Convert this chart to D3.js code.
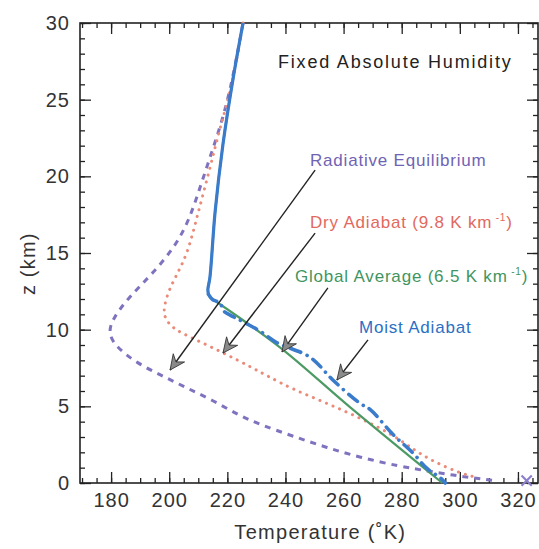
<!DOCTYPE html>
<html>
<head>
<meta charset="utf-8">
<script src="https://cdn.jsdelivr.net/npm/d3@7"></script>
<style>
  body { margin: 0; background: #fff; }
  svg { display: block; font-family: "Liberation Sans", Arial, sans-serif; }
  .tick text { fill: #333; font-size: 20px; letter-spacing: 1px; }
  .tick line { stroke: #222; stroke-width: 1.3; }
</style>
</head>
<body>
<script>
// temperature (K) and height (km) pairs
var radiativeT = [225.4, 221.5, 218, 214.5, 211, 207, 202, 194, 186, 180.5, 179, 181.5, 189, 197.5, 206, 215, 224, 231.5, 242.6, 254.3, 266, 279, 289, 298, 305, 312];
var radiativeZ = [30, 26, 23.5, 21.5, 19.5, 17.2, 15.4, 13.6, 12.1, 10.7, 9.8, 8.9, 7.8, 7.0, 6.2, 5.4, 4.4, 3.8, 3.05, 2.3, 1.65, 1.1, 0.78, 0.5, 0.32, 0.15];

var dryT = [225.4, 221.8, 217.5, 214, 209.5, 206.5, 203.2, 199.6, 198, 198.5, 201.3, 208, 218.5, 227.8, 234.1, 242.7, 254.3, 265.6, 277, 285, 292, 300, 306];
var dryZ = [30, 26, 23.2, 20.5, 17.3, 15.1, 13.8, 12.5, 11.3, 10.75, 10.05, 9.45, 8.5, 7.6, 6.95, 6.1, 5.2, 4.25, 3.15, 2.05, 1.3, 0.65, 0.35];

var globalT = [225.4, 222, 218.5, 215.8, 214, 213.3, 214, 216, 238.1, 262.2, 294];
var globalZ = [30, 26.4, 22.1, 17.7, 13.4, 12.6, 12.1, 11.85, 8.85, 4.95, 0];

var moistUpperT = [225.4, 222, 218.5, 215.8, 214, 213.3, 213.5];
var moistUpperZ = [30, 26.4, 22.1, 17.7, 13.4, 12.6, 12.3];
var moistLowerT = [213.5, 215, 217.5, 218.6, 222, 225.5, 231.3, 237.1, 248.5, 256.4, 265.6, 269.1, 277.1, 283.9, 288.7, 293.2, 295];
var moistLowerZ = [12.3, 11.95, 11.75, 11.25, 10.85, 10.5, 9.9, 9.15, 8.2, 6.7, 5.2, 4.8, 3.15, 1.95, 0.95, 0.35, 0];

var xTicks = [180, 200, 220, 240, 260, 280, 300, 320];
var yTicks = [0, 5, 10, 15, 20, 25, 30];

var width = 539, height = 549;
var margin = {top: 23, right: 1, bottom: 66, left: 80};
var w = width - margin.left - margin.right,
    h = height - margin.top - margin.bottom;

var xScale = d3.scaleLinear().domain([169.3, 326.9]).range([0, w]);
var yScale = d3.scaleLinear().domain([0, 30]).range([h, 0]);

var svg = d3.select("body").append("svg")
    .attr("width", width)
    .attr("height", height)
  .append("g")
    .attr("transform", "translate(" + margin.left + "," + margin.top + ")");

var minorX = d3.range(170, 326, 5);
var minorY = d3.range(0, 31, 1);

// ticks point inward on all four sides
function axisPair(axisFn, scale, minorVals, majorVals, labels, translate) {
  var gMinor = svg.append("g").attr("transform", translate)
      .call(axisFn(scale).tickValues(minorVals).tickSize(-5).tickFormat(""));
  gMinor.select(".domain").remove();
  var gMajor = svg.append("g").attr("transform", translate)
      .call(axisFn(scale)
        .tickValues(majorVals).tickSize(-11).tickPadding(labels ? 10 : 0)
        .tickFormat(labels ? d3.format("d") : ""));
  gMajor.select(".domain").remove();
  return gMajor;
}

axisPair(d3.axisBottom, xScale, minorX, xTicks, true, "translate(0," + h + ")");
axisPair(d3.axisTop, xScale, minorX, xTicks, false, "translate(0,0)");
axisPair(d3.axisLeft, yScale, minorY, yTicks, true, "translate(0,0)");
axisPair(d3.axisRight, yScale, minorY, yTicks, false, "translate(" + w + ",0)");

// frame
svg.append("rect")
    .attr("width", w).attr("height", h)
    .attr("fill", "none").attr("stroke", "#222").attr("stroke-width", 1.6);

svg.append("text")
    .attr("x", xScale(252))
    .attr("y", h + 56)
    .attr("text-anchor", "middle")
    .attr("fill", "#333")
    .style("font-size", "20px")
    .style("letter-spacing", "1.3px")
    .text("Temperature (˚K)");

svg.append("text")
    .attr("transform", "translate(" + (-45) + "," + yScale(14.3) + ") rotate(-90)")
    .attr("text-anchor", "middle")
    .attr("fill", "#333")
    .style("font-size", "20px")
    .style("letter-spacing", "1.2px")
    .text("z (km)");

var lineBasis = d3.line()
    .x(function(d) { return xScale(d[0]); })
    .y(function(d) { return yScale(d[1]); })
    .curve(d3.curveBasis);

var lineCat = d3.line()
    .x(function(d) { return xScale(d[0]); })
    .y(function(d) { return yScale(d[1]); })
    .curve(d3.curveCatmullRom);

function pairs(ts, zs) { return ts.map(function(t, i) { return [t, zs[i]]; }); }

svg.append("path")
    .datum(pairs(radiativeT, radiativeZ))
    .attr("d", lineBasis)
    .attr("fill", "none")
    .attr("stroke", "#7f73c0")
    .attr("stroke-width", 3)
    .attr("stroke-dasharray", "6,6");

svg.append("path")
    .datum(pairs(dryT, dryZ))
    .attr("d", lineBasis)
    .attr("fill", "none")
    .attr("stroke", "#ea8a78")
    .attr("stroke-width", 3)
    .attr("stroke-linecap", "round")
    .attr("stroke-dasharray", "0.1,7");

svg.append("path")
    .datum(pairs(globalT, globalZ))
    .attr("d", lineCat)
    .attr("fill", "none")
    .attr("stroke", "#4c9a64")
    .attr("stroke-width", 2.2);

svg.append("path")
    .datum(pairs(moistUpperT, moistUpperZ))
    .attr("d", lineCat)
    .attr("fill", "none")
    .attr("stroke", "#3a7bcb")
    .attr("stroke-width", 3.2);

svg.append("path")
    .datum(pairs(moistLowerT, moistLowerZ))
    .attr("d", lineCat)
    .attr("fill", "none")
    .attr("stroke", "#3a7bcb")
    .attr("stroke-width", 3.6)
    .attr("stroke-linecap", "round")
    .attr("stroke-dasharray", "11,7,0.1,7");

// surface temperature marker of radiative equilibrium
svg.append("path")
    .attr("d", d3.symbol().type(d3.symbolX).size(70)())
    .attr("transform", "translate(" + xScale(323) + "," + yScale(0.15) + ")")
    .attr("fill", "none")
    .attr("stroke", "#8a80cc")
    .attr("stroke-width", 2.2);

// labels and arrows
svg.append("defs").append("marker")
    .attr("id", "head")
    .attr("viewBox", "-16 -8 18 16")
    .attr("refX", 0).attr("refY", 0)
    .attr("markerWidth", 18).attr("markerHeight", 16)
    .attr("markerUnits", "userSpaceOnUse")
    .attr("orient", "auto")
  .append("path")
    .attr("d", "M0,0 L-15,-7 L-10,0 L-15,7 Z")
    .attr("fill", "#8a8a8a")
    .attr("stroke", "#333")
    .attr("stroke-width", 0.8);

var arrows = [
  [[250.2, 20.4], [200.3, 7.37]],
  [[250.2, 16.3], [218.5, 8.48]],
  [[254.6, 12.72], [238.8, 8.55]],
  [[268.4, 9.33], [257.7, 6.72]]
];

svg.selectAll(".arrow")
    .data(arrows)
  .enter().append("line")
    .attr("class", "arrow")
    .attr("x1", function(d) { return xScale(d[0][0]); })
    .attr("y1", function(d) { return yScale(d[0][1]); })
    .attr("x2", function(d) { return xScale(d[1][0]); })
    .attr("y2", function(d) { return yScale(d[1][1]); })
    .attr("stroke", "#222")
    .attr("stroke-width", 1.4)
    .attr("marker-end", "url(#head)");

svg.append("text")
    .attr("x", 278 - margin.left).attr("y", 68 - margin.top)
    .attr("fill", "#222")
    .style("font-size", "18px")
    .style("letter-spacing", "1.8px")
    .text("Fixed Absolute Humidity");

var labels = [
  {text: "Radiative Equilibrium", x: 310, y: 166, color: "#6f63b4"},
  {text: "Dry Adiabat (9.8 K km", sup: "-1", x: 310, y: 228, color: "#e2695e"},
  {text: "Global Average (6.5 K km", sup: "-1", x: 295, y: 282, color: "#3f9560"},
  {text: "Moist Adiabat", x: 359, y: 333, color: "#2b6fc4"}
];

labels.forEach(function(l) {
  var t = svg.append("text")
      .attr("x", l.x - margin.left).attr("y", l.y - margin.top)
      .attr("fill", l.color)
      .style("font-size", "17px")
      .style("letter-spacing", "0.8px")
      .text(l.text);
  if (l.sup) {
    t.append("tspan").attr("dy", -7).style("font-size", "10px").text(" " + l.sup);
    t.append("tspan").attr("dy", 7).text(")");
  }
});
</script>
</body>
</html>
